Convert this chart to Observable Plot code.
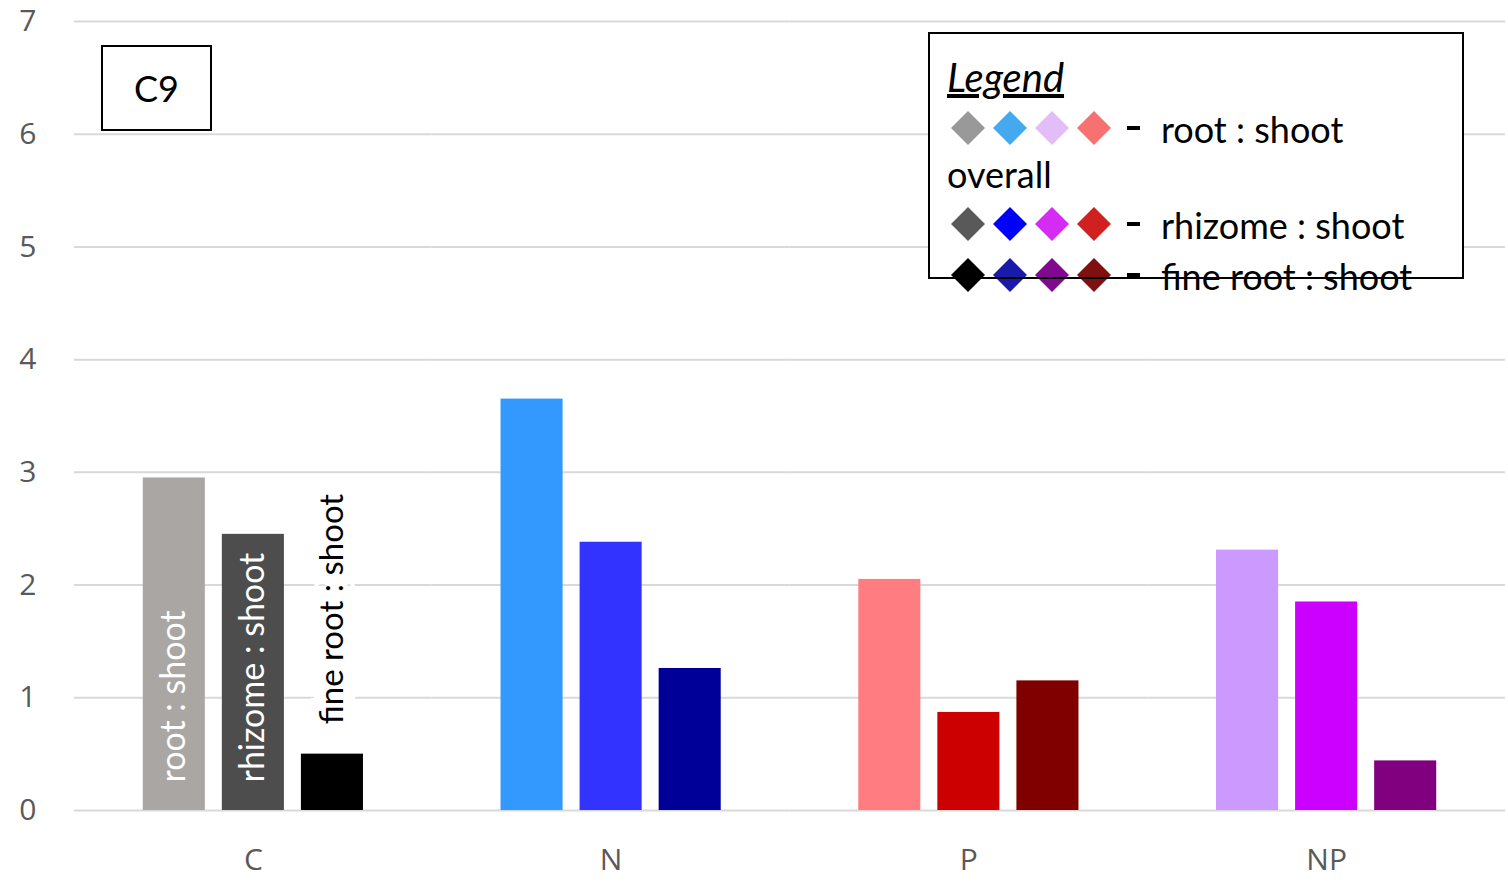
<!DOCTYPE html>
<html>
<head>
<meta charset="utf-8">
<script src="https://cdn.jsdelivr.net/npm/d3@7"></script>
<script src="https://cdn.jsdelivr.net/npm/@observablehq/plot@0.6"></script>
<style>
  html, body { margin: 0; padding: 0; background: white; overflow: hidden; }
  #wrap { position: relative; width: 1508px; height: 886px; }
  #overlay { position: absolute; left: 0; top: 0; pointer-events: none; }
</style>
</head>
<body>
<div id="wrap"></div>
<script>
// ---- data ----
const groups = ["C", "N", "P", "NP"];
const series = ["root : shoot", "rhizome : shoot", "fine root : shoot"];
const rootShoot = [2.95, 3.65, 2.05, 2.31];
const rhizomeShoot = [2.45, 2.38, 0.87, 1.85];
const fineRootShoot = [0.50, 1.26, 1.15, 0.44];
const colorsC = ["#aaa6a4", "#4d4d4d", "#000000"];
const colorsN = ["#3399ff", "#3333ff", "#000099"];
const colorsP = ["#ff7c80", "#cc0000", "#800000"];
const colorsNP = ["#cc99ff", "#cc00ff", "#800080"];
const yTicks = [0, 1, 2, 3, 4, 5, 6, 7];
const panelLabel = "C9";
const legendTitle = "Legend";
const legendRows = [
  {label: "root : shoot", colors: ["#999999", "#45a9f0", "#e2bdf7", "#f87171"]},
  {label: "rhizome : shoot", colors: ["#595959", "#0000ff", "#d42bf5", "#d02020"]},
  {label: "fine root : shoot", colors: ["#000000", "#1a1aaa", "#7f0a8f", "#7f1010"]}
];
const legendExtra = "overall";

// ---- table ----
const groupColors = [colorsC, colorsN, colorsP, colorsNP];
const valuesBySeries = [rootShoot, rhizomeShoot, fineRootShoot];
const data = [];
groups.forEach((g, i) => {
  series.forEach((s, j) => {
    data.push({group: g, series: s, value: valuesBySeries[j][i], color: groupColors[i][j]});
  });
});
const inBarLabels = data.filter(d => d.group === "C" && d.series !== "fine root : shoot");
const aboveBarLabels = data.filter(d => d.group === "C" && d.series === "fine root : shoot");

const chart = Plot.plot({
  width: 1508,
  height: 886,
  marginLeft: 74,
  marginRight: 3,
  marginTop: 21,
  marginBottom: 76,
  style: {fontFamily: "'Open Sans', sans-serif", fontSize: "30px", color: "#595959", background: "white", overflow: "visible"},
  fx: {domain: groups, padding: 0, round: false, label: null, axis: "bottom", tickSize: 0, tickPadding: 38},
  x: {domain: series, axis: null, round: false, paddingInner: 0.215, paddingOuter: 0.87},
  y: {domain: [0, 7], ticks: yTicks, tickFormat: d3.format("d"), label: null, tickSize: 0, tickPadding: 38},
  color: {type: "identity"},
  marks: [
    Plot.ruleY(yTicks, {stroke: "#d9d9d9", strokeWidth: 2}),
    Plot.barY(data, {fx: "group", x: "series", y: "value", fill: "color"}),
    Plot.text(inBarLabels, {
      fx: "group", x: "series", y: 0, text: "series", rotate: -90,
      textAnchor: "start", lineAnchor: "middle", dy: -28,
      fill: "white", fontSize: 34, fontFamily: "Lato, sans-serif"
    }),
    Plot.text(aboveBarLabels, {
      fx: "group", x: "series", y: "value", text: "series", rotate: -90,
      textAnchor: "start", lineAnchor: "middle", dy: -30,
      fill: "black", stroke: "white", strokeWidth: 24, strokeLinejoin: "miter",
      fontSize: 33, fontFamily: "Lato, sans-serif"
    })
  ]
});
document.getElementById("wrap").appendChild(chart);

// ---- overlay annotations (panel label + legend box) ----
const svg = d3.select("#wrap").append("svg")
  .attr("id", "overlay").attr("width", 1508).attr("height", 886)
  .style("font-family", "Lato, sans-serif");

// panel label
svg.append("rect").attr("x", 102).attr("y", 46).attr("width", 109).attr("height", 84)
  .attr("fill", "white").attr("stroke", "black").attr("stroke-width", 2);
svg.append("text").attr("x", 156.5).attr("y", 88).attr("text-anchor", "middle")
  .attr("dominant-baseline", "central").attr("font-size", 36).attr("fill", "black").text(panelLabel);

// legend
const lg = svg.append("g");
lg.append("rect").attr("x", 929).attr("y", 33).attr("width", 534).attr("height", 245)
  .attr("fill", "white");
lg.append("text").attr("x", 947).attr("y", 92).attr("font-size", 40)
  .attr("font-style", "italic")
  .attr("text-decoration", "underline").attr("fill", "black").text(legendTitle);
const rowY = [128, 224, 275];
legendRows.forEach((row, r) => {
  const cy = rowY[r];
  row.colors.forEach((c, k) => {
    const cx = 968 + k * 42;
    lg.append("path")
      .attr("d", `M${cx},${cy - 17}L${cx + 17},${cy}L${cx},${cy + 17}L${cx - 17},${cy}Z`)
      .attr("fill", c);
  });
  lg.append("rect").attr("x", 1127).attr("y", cy - 2).attr("width", 13).attr("height", 4).attr("fill", "black");
  lg.append("text").attr("x", 1161).attr("y", cy + 15).attr("font-size", 36).attr("fill", "black").text(row.label);
});
lg.append("text").attr("x", 947).attr("y", 188).attr("font-size", 36).attr("fill", "black").text(legendExtra);
lg.append("rect").attr("x", 929).attr("y", 33).attr("width", 534).attr("height", 245)
  .attr("fill", "none").attr("stroke", "black").attr("stroke-width", 2);
</script>
</body>
</html>
